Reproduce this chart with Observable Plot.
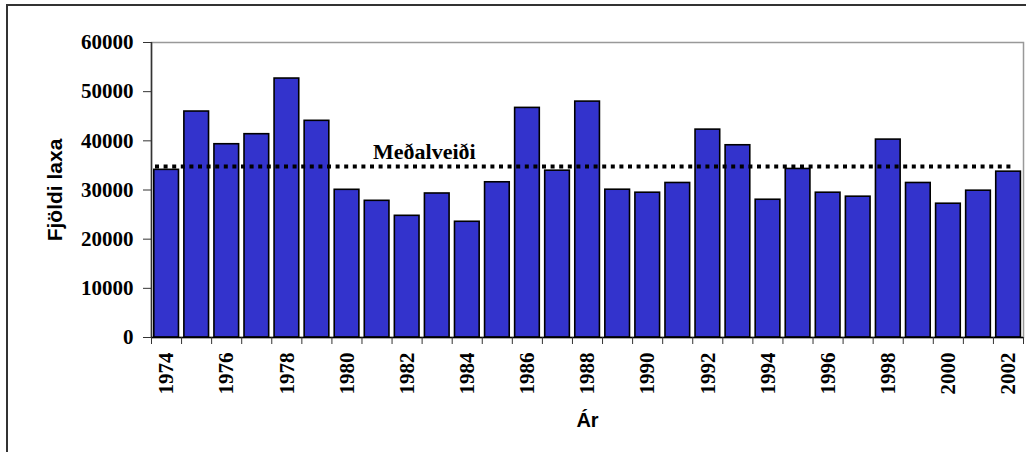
<!DOCTYPE html>
<html>
<head>
<meta charset="utf-8">
<script src="https://cdn.jsdelivr.net/npm/d3@7"></script>
<script src="https://cdn.jsdelivr.net/npm/@observablehq/plot@0.6"></script>
<style>
  html, body { margin: 0; padding: 0; background: #fff; overflow: hidden; }
  #wrap { position: relative; width: 1026px; height: 452px; }
  #border { position: absolute; left: 6px; top: 4px; width: 1040px; height: 470px;
            border: 2px solid #333; box-sizing: border-box; pointer-events: none; }
</style>
</head>
<body>
<div id="wrap"><div id="border"></div></div>
<script>
const years = [1974,1975,1976,1977,1978,1979,1980,1981,1982,1983,1984,1985,1986,1987,1988,
               1989,1990,1991,1992,1993,1994,1995,1996,1997,1998,1999,2000,2001,2002];
const catches = [34100,45960,39310,41350,52670,44070,30040,27800,24750,29290,23540,31570,46700,33930,47980,
                 30060,29450,31430,42280,39100,28020,34280,29450,28640,40250,31430,27210,29860,33730];
const meanCatch = 34800;
const meanLabel = "Meðalveiði";
const meanLabelYear = 1981;
const yTicks = [0,10000,20000,30000,40000,50000,60000];
const xLabelYears = [1974,1976,1978,1980,1982,1984,1986,1988,1990,1992,1994,1996,1998,2000,2002];
const yTitle = "Fjöldi laxa";
const xTitle = "Ár";

const data = years.map((year, i) => ({year, value: catches[i]}));
const bounds = years.map(y => y - 0.5).concat([years[years.length - 1] + 0.5]);

const serif = "'Liberation Serif', 'Times New Roman', serif";
const sans = "'Liberation Sans', Arial, sans-serif";

const chart = Plot.plot({
  width: 1026,
  height: 452,
  marginLeft: 151,
  marginRight: 3,
  marginTop: 42,
  marginBottom: 115,
  style: {fontFamily: serif, fontWeight: "bold", fontSize: "21px", color: "#000", background: "transparent"},
  x: {type: "linear", domain: [bounds[0], bounds[bounds.length - 1]], axis: null},
  y: {domain: [0, 60000], axis: null},
  marks: [
    Plot.frame({stroke: "#999", strokeWidth: 1.5}),
    Plot.rectY(data, {x1: d => d.year - 0.5, x2: d => d.year + 0.5, y: "value",
      fill: "#3333CC", stroke: "#000", strokeWidth: 1.6, insetLeft: 2.8, insetRight: 2.6}),
    Plot.ruleX([bounds[0]], {stroke: "#333", strokeWidth: 1.5}),
    Plot.ruleY([0], {stroke: "#000", strokeWidth: 1.5}),
    Plot.axisY({ticks: yTicks, tickFormat: d => String(d), tickSize: 8, tickPadding: 10,
      stroke: "#333", label: null, fontFamily: serif, fontWeight: "bold", fontSize: 21}),
    Plot.axisX({ticks: bounds, tickFormat: () => "", tickSize: 7, stroke: "#333", label: null}),
    Plot.text(xLabelYears, {x: d => d, frameAnchor: "bottom", text: d => String(d), rotate: -90,
      textAnchor: "end", lineAnchor: "middle", dy: 15,
      fontFamily: serif, fontWeight: "bold", fontSize: 21}),
    Plot.ruleY([meanCatch], {y: d => d, stroke: "#000", strokeWidth: 4, strokeDasharray: "4,4.6",
      insetLeft: 4, insetRight: 8}),
    Plot.text([meanCatch], {x: () => meanLabelYear, y: d => d, text: () => meanLabel,
      textAnchor: "start", lineAnchor: "bottom", dx: -4, dy: -7,
      fontFamily: serif, fontWeight: "bold", fontSize: 22}),
    Plot.text([yTitle], {frameAnchor: "left", text: d => d, rotate: -90, dx: -96,
      textAnchor: "middle", lineAnchor: "middle",
      fontFamily: sans, fontWeight: "bold", fontSize: 21}),
    Plot.text([xTitle], {frameAnchor: "bottom", text: d => d, dy: 83,
      textAnchor: "middle", lineAnchor: "middle",
      fontFamily: sans, fontWeight: "bold", fontSize: 20})
  ]
});
document.getElementById("wrap").prepend(chart);
</script>
</body>
</html>
